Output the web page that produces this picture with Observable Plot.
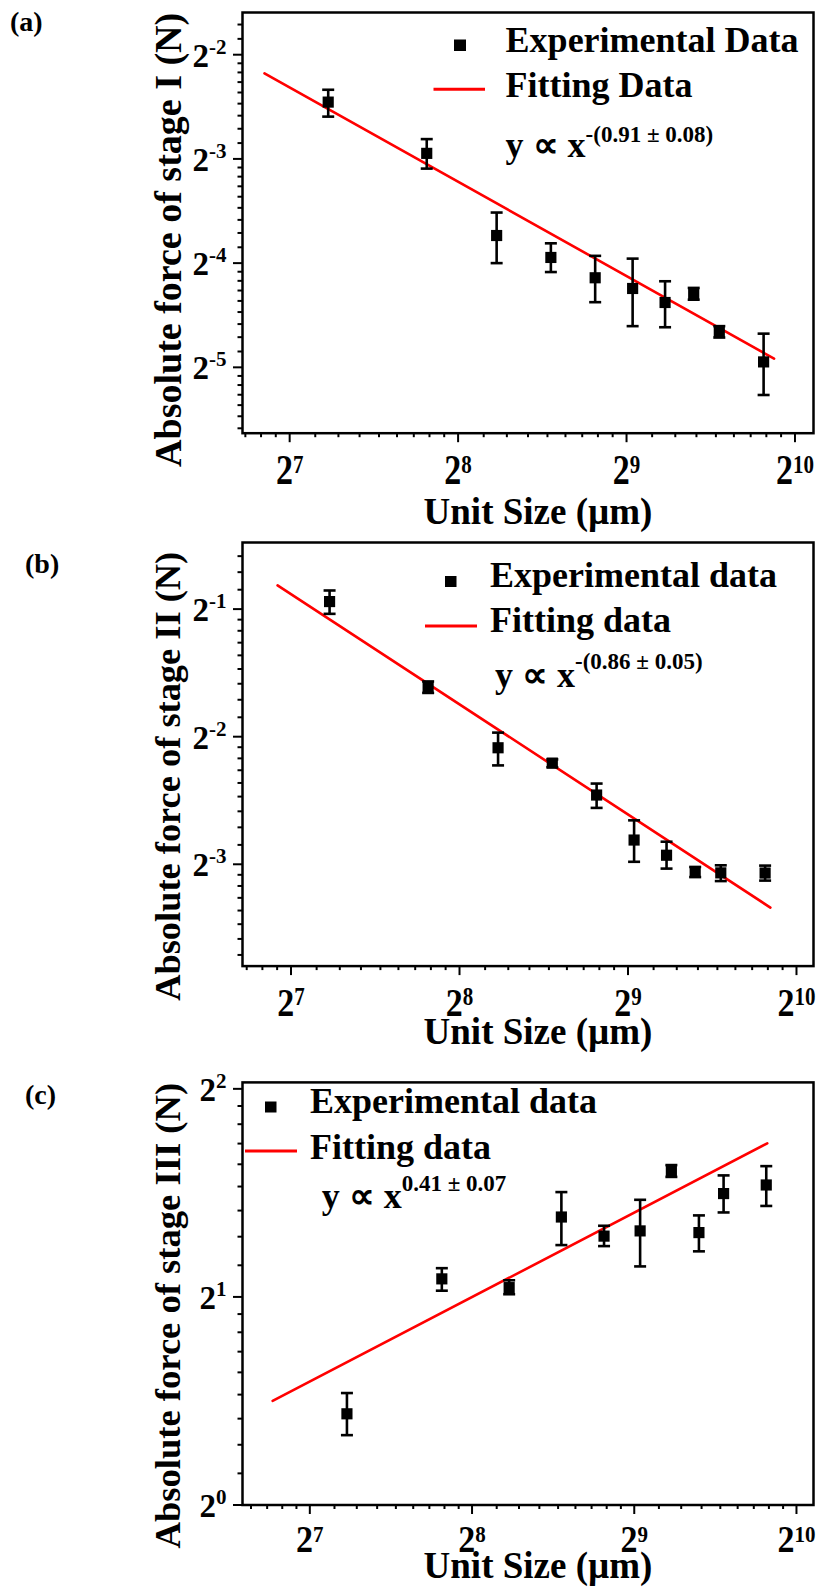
<!DOCTYPE html>
<html>
<head>
<meta charset="utf-8">
<script src="https://cdn.jsdelivr.net/npm/d3@7"></script>
<script src="https://cdn.jsdelivr.net/npm/@observablehq/plot@0.6"></script>
<style>
  body { margin: 0; background: #fff; }
  #page { position: relative; width: 817px; height: 1594px; overflow: hidden; background: #fff; }
  .panel { position: absolute; left: 0; }
  #overlay { position: absolute; left: 0; top: 0; pointer-events: none; }
</style>
</head>
<body>
<div id="page"></div>
<script>
// ---------------- DATA ----------------
const unitSize = [150, 225, 300, 375, 450, 525, 600, 675, 750, 900];

const forceI   = [0.1824, 0.1297, 0.0751, 0.0649, 0.0567, 0.0528, 0.0481, 0.0509, 0.0396, 0.0324];
const forceILo = [0.1656, 0.1172, 0.0625, 0.0589, 0.0482, 0.0411, 0.0408, 0.0490, 0.0381, 0.0260];
const forceIHi = [0.1980, 0.1426, 0.0875, 0.0713, 0.0656, 0.0644, 0.0554, 0.0530, 0.0411, 0.0391];

const forceII   = [0.5209, 0.3271, 0.2354, 0.2166, 0.1821, 0.1426, 0.1313, 0.1198, 0.1193, 0.1192];
const forceIILo = [0.4873, 0.3171, 0.2139, 0.2118, 0.1698, 0.1267, 0.1221, 0.1166, 0.1141, 0.1144];
const forceIIHi = [0.5532, 0.3375, 0.2556, 0.2210, 0.1938, 0.1587, 0.1413, 0.1232, 0.1243, 0.1241];

const forceIII   = [1.355, 2.124, 2.063, 2.610, 2.449, 2.492, 3.046, 2.478, 2.822, 2.904];
const forceIIILo = [1.262, 2.042, 2.018, 2.377, 2.369, 2.214, 2.983, 2.328, 2.650, 2.708];
const forceIIIHi = [1.452, 2.201, 2.114, 2.836, 2.535, 2.764, 3.103, 2.624, 2.998, 3.092];

// fitted power-law lines (end points)
const fitIx   = [115.4, 939.7], fitIy   = [0.2208, 0.0331];
const fitIIx  = [121.1, 919.7], fitIIy  = [0.5689, 0.0988];
const fitIIIx = [109.2, 903.9], fitIIIy = [1.4142, 3.336];

// tick labels (powers of two)
const xTickExp    = [7, 8, 9, 10];
const yTickExpI   = [-2, -3, -4, -5];
const yTickExpII  = [-1, -2, -3];
const yTickExpIII = [0, 1, 2];

// texts
const panelTags  = ["(a)", "(b)", "(c)"];
const yTitles    = ["Absolute force of stage I (N)", "Absolute force of stage II (N)", "Absolute force of stage III (N)"];
const xTitle     = "Unit Size (\u00b5m)";
const legendExp  = ["Experimental Data", "Experimental data", "Experimental data"];
const legendFit  = ["Fitting Data", "Fitting data", "Fitting data"];
const fitExpText = ["-(0.91 \u00b1 0.08)", "-(0.86 \u00b1 0.05)", "0.41 \u00b1 0.07"];

// ---------------- LAYOUT ----------------
const FONT = "'Liberation Serif', 'Times New Roman', Times, serif";
const XLAB = "#010101", YLAB = "#020202";
const panels = [
  { top: 0,    height: 536, mt: 12,   mb: 103.3, xDom: [2 ** 6.72, 2 ** 10.11], yDom: [2 ** -5.632, 2 ** -1.595],
    y: forceI, lo: forceILo, hi: forceIHi, fx: fitIx, fy: fitIy, yTicks: yTickExpI,
    yTitleSize: 38, yTitleDy: 17, xTickDy: 50.6, xTitleDy: 90.6, xStretch: 1.22 },
  { top: 536,  height: 522, mt: 6,    mb: 92.4,  xDom: [2 ** 6.712, 2 ** 10.101], yDom: [2 ** -3.798, 2 ** -0.478],
    y: forceII, lo: forceIILo, hi: forceIIHi, fx: fitIIx, fy: fitIIy, yTicks: yTickExpII,
    yTitleSize: 36.4, yTitleDy: 22, xTickDy: 49.7, xTitleDy: 77.4, xStretch: 1.18 },
  { top: 1058, height: 536, mt: 23.9, mb: 89.5,  xDom: [2 ** 6.585, 2 ** 10.105], yDom: [1, 2 ** 2.031],
    y: forceIII, lo: forceIIILo, hi: forceIIIHi, fx: fitIIIx, fy: fitIIIy, yTicks: yTickExpIII,
    yTitleSize: 36.6, yTitleDy: 22, xTickDy: 47, xTitleDy: 72.5, xStretch: 1.1 }
];

// minor ticks: linear subdivision of each octave into 9 parts
function minorTicks(dom, sub) {
  const out = [];
  for (let k = Math.floor(Math.log2(dom[0])) - 1; k <= Math.ceil(Math.log2(dom[1])); k++) {
    const b = 2 ** k;
    for (let j = 1; j < sub; j++) {
      const v = b * (1 + j / sub);
      if (v >= dom[0] && v <= dom[1]) out.push(v);
    }
  }
  return out;
}

const capSymbol = {
  draw(ctx, size) {
    const w = Math.sqrt(size / Math.PI);
    ctx.moveTo(-w, 0);
    ctx.lineTo(w, 0);
  }
};

const NS = "http://www.w3.org/2000/svg";
function findGroup(svg, fill) {
  return Array.from(svg.querySelectorAll("g")).find(g => (g.getAttribute("fill") || "").toLowerCase() === fill);
}
function superscriptify(svg, fill, supSize, supDy) {
  const g = findGroup(svg, fill);
  if (!g) return;
  g.querySelectorAll("text").forEach(t => {
    const e = t.textContent;
    t.textContent = "2";
    const ts = document.createElementNS(NS, "tspan");
    ts.setAttribute("font-size", supSize);
    ts.setAttribute("dy", supDy);
    ts.textContent = e;
    t.appendChild(ts);
  });
}
function stretchGroup(svg, fill, y0, s) {
  const g = findGroup(svg, fill);
  if (!g) return;
  const wrap = document.createElementNS(NS, "g");
  wrap.setAttribute("transform", `translate(0,${y0}) scale(1,${s}) translate(0,${-y0})`);
  g.parentNode.insertBefore(wrap, g);
  wrap.appendChild(g);
}

const page = document.getElementById("page");

panels.forEach((p, idx) => {
  const rows = unitSize.map((x, i) => ({ x, y: p.y[i], lo: p.lo[i], hi: p.hi[i] }));
  const fit = p.fx.map((x, i) => ({ x, y: p.fy[i] }));
  const xMajor = xTickExp.map(e => 2 ** e);
  const yMajor = p.yTicks.map(e => 2 ** e);
  const xMinor = minorTicks(p.xDom, 9);
  const yMinor = minorTicks(p.yDom, 9);

  const plot = Plot.plot({
    width: 817,
    height: p.height,
    marginLeft: 242,
    marginRight: 4,
    marginTop: p.mt,
    marginBottom: p.mb,
    style: { fontFamily: FONT, fontWeight: "bold", background: "transparent", overflow: "visible", color: "black" },
    x: { type: "log", base: 2, domain: p.xDom },
    y: { type: "log", base: 2, domain: p.yDom },
    marks: [
      Plot.axisX(xMinor, { tickSize: 4.5, strokeWidth: 2, tickFormat: () => "", label: null }),
      Plot.axisX(xMajor, { tickSize: 9.5, strokeWidth: 2, tickFormat: () => "", label: null }),
      Plot.axisY(yMinor, { tickSize: 4.5, strokeWidth: 2, tickFormat: () => "", label: null }),
      Plot.axisY(yMajor, { tickSize: 9, strokeWidth: 2, tickFormat: () => "", label: null }),
      Plot.text(xTickExp, {
        x: d => 2 ** d, text: d => String(d), frameAnchor: "bottom", dy: p.xTickDy,
        lineAnchor: "bottom", textAnchor: "middle", fontSize: 34, fontWeight: "bold", fill: XLAB,
        fontFamily: FONT
      }),
      Plot.text(p.yTicks, {
        y: d => 2 ** d, text: d => String(d), frameAnchor: "left", dx: -16, dy: 12,
        lineAnchor: "bottom", textAnchor: "end", fontSize: 33, fontWeight: "bold", fill: YLAB,
        fontFamily: FONT
      }),
      Plot.text([yTitles[idx]], {
        frameAnchor: "left", rotate: -90, dx: -74, dy: p.yTitleDy, lineAnchor: "middle",
        textAnchor: "middle", fontSize: p.yTitleSize, fontWeight: "bold", fill: "black", fontFamily: FONT
      }),
      Plot.text([xTitle], {
        frameAnchor: "bottom", dx: 10, dy: p.xTitleDy, lineAnchor: "bottom",
        textAnchor: "middle", fontSize: 37, fontWeight: "bold", fill: "black", fontFamily: FONT
      }),
      Plot.line(fit, { x: "x", y: "y", stroke: "#ff0000", strokeWidth: 2.6 }),
      Plot.ruleX(rows, { x: "x", y1: "lo", y2: "hi", stroke: "black", strokeWidth: 2.6 }),
      Plot.dot(rows, { x: "x", y: "lo", symbol: capSymbol, r: 6, fill: "none", stroke: "black", strokeWidth: 2.6 }),
      Plot.dot(rows, { x: "x", y: "hi", symbol: capSymbol, r: 6, fill: "none", stroke: "black", strokeWidth: 2.6 }),
      Plot.dot(rows, { x: "x", y: "y", symbol: "square", r: 6.3, fill: "black", stroke: "none" }),
      Plot.frame({ stroke: "black", strokeWidth: 2.5 })
    ]
  });

  const div = document.createElement("div");
  div.className = "panel";
  div.style.top = p.top + "px";
  div.appendChild(plot);
  page.appendChild(div);

  superscriptify(plot, XLAB, 21, -9);
  superscriptify(plot, YLAB, 21, -13);
  stretchGroup(plot, XLAB, p.height - p.mb + p.xTickDy, p.xStretch);
});

// ---------------- OVERLAY: tags, legends, formulas ----------------
const overlayLayout = [
  { tag: [10, 31],  sq: [454, 39.5, 12, 11.5], line: [433.5, 485, 89.3], exp: [505.6, 51.7], fitT: [505.6, 96.7], form: [505.6, 156.7], supDy: -15 },
  { tag: [25, 573], sq: [445, 576, 11.5, 11], line: [425, 477, 626],   exp: [490, 586.7],  fitT: [490, 631.7],  form: [495, 686.7],  supDy: -18 },
  { tag: [25, 1104], sq: [265, 1101.5, 11.5, 11], line: [245, 297, 1151], exp: [310, 1113.3], fitT: [310, 1159], form: [321.7, 1208.3], supDy: -17 }
];

const ov = d3.select(page).append("svg")
  .attr("id", "overlay")
  .attr("width", 817).attr("height", 1594)
  .style("font-family", FONT).style("font-weight", "bold");

overlayLayout.forEach((L, i) => {
  ov.append("text").attr("x", L.tag[0]).attr("y", L.tag[1]).attr("font-size", 28).text(panelTags[i]);
  ov.append("rect").attr("x", L.sq[0]).attr("y", L.sq[1]).attr("width", L.sq[2]).attr("height", L.sq[3]).attr("fill", "black");
  ov.append("line").attr("x1", L.line[0]).attr("x2", L.line[1]).attr("y1", L.line[2]).attr("y2", L.line[2])
    .attr("stroke", "#ff0000").attr("stroke-width", 3);
  ov.append("text").attr("x", L.exp[0]).attr("y", L.exp[1]).attr("font-size", 36).text(legendExp[i]);
  ov.append("text").attr("x", L.fitT[0]).attr("y", L.fitT[1]).attr("font-size", 36).text(legendFit[i]);
  const f = ov.append("text").attr("x", L.form[0]).attr("y", L.form[1]).attr("font-size", 36);
  f.append("tspan").text("y \u221d x");
  f.append("tspan").attr("font-size", 23).attr("dy", L.supDy).text(fitExpText[i]);
});
</script>
</body>
</html>
